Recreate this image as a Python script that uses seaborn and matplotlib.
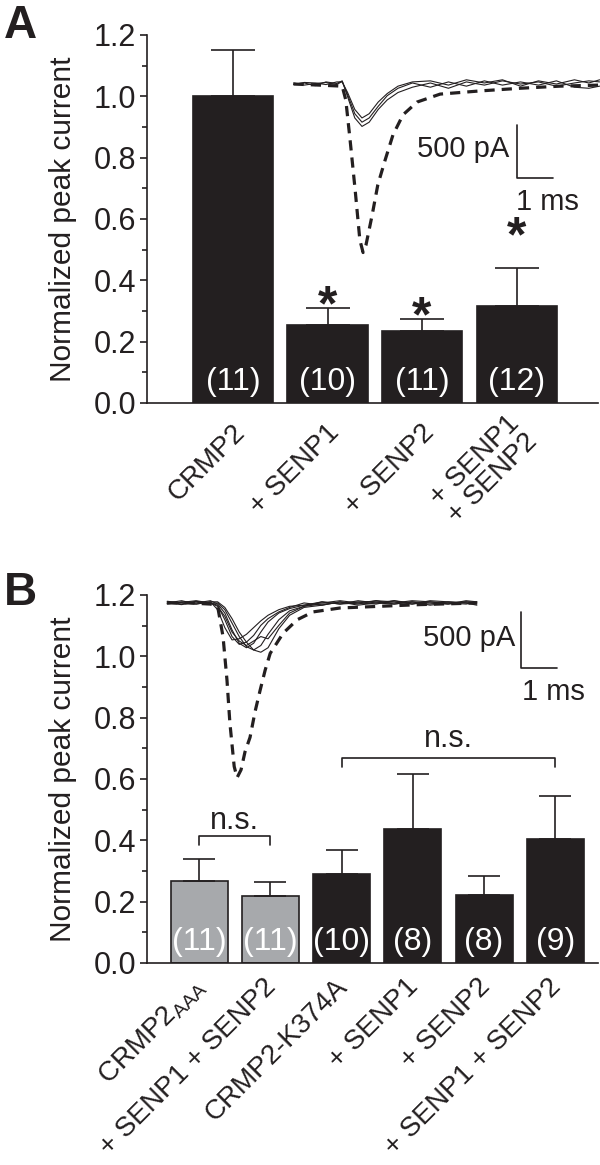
import matplotlib
matplotlib.use("Agg")
import matplotlib.pyplot as plt
import matplotlib.transforms as mtransforms
import seaborn as sns

# ---- panel A data ----
a_labels = ["CRMP2", "+ SENP1", "+ SENP2", "+ SENP1\n+ SENP2"]
a_mean = [1.0, 0.255, 0.235, 0.315]
a_sem = [0.151, 0.056, 0.039, 0.124]
a_n = ["(11)", "(10)", "(11)", "(12)"]
a_star = [None, 0.362, 0.326, 0.585]
a_colors = ["#231f20", "#231f20", "#231f20", "#231f20"]

# ---- panel B data ----
b_labels = [r"CRMP2$_{\mathrm{AAA}}$", "+ SENP1 + SENP2", "CRMP2-K374A",
            "+ SENP1", "+ SENP2", "+ SENP1 + SENP2"]
b_mean = [0.267, 0.218, 0.29, 0.437, 0.222, 0.404]
b_sem = [0.072, 0.046, 0.078, 0.179, 0.062, 0.141]
b_n = ["(11)", "(11)", "(10)", "(8)", "(8)", "(9)"]
b_colors = ["#a7a9ac", "#a7a9ac", "#231f20", "#231f20", "#231f20", "#231f20"]
# brackets: (first bar, last bar, leg bottom, bracket top, text baseline)
b_brackets = [(0, 1, 0.385, 0.414, 0.437), (2, 5, 0.639, 0.668, 0.703)]

# ---- example current traces (ms, pA) ----
a_dash_t = [0.1, 0.8, 1.45, 1.55, 1.67, 1.81, 1.94, 2.03, 2.11, 2.28, 2.44, 2.64,
            2.86, 3.14, 3.53, 4.17, 5.28, 6.39, 7.5, 8.6]
a_dash_i = [0, -10, -20, -150, -530, -1000, -1470, -1590, -1520, -1240, -950, -720,
            -480, -290, -170, -95, -65, -40, -20, -10]
a_sol_t = [0.1, 0.4, 0.7, 1.0, 1.3, 1.45, 1.6, 1.8, 2.0, 2.2, 2.45, 2.7, 3.0, 3.4,
           3.9, 4.4, 4.9, 5.4, 5.9, 6.4, 6.9, 7.4, 7.9, 8.3, 8.6]
a_sol = [
    [0, 10, -15, 20, 5, 30, -120, -320, -400, -360, -240, -150, -80, -30, 10, -40,
     20, -10, 30, 0, 20, -20, 10, 30, 20],
    [10, -10, 5, 15, -5, 25, -100, -280, -360, -320, -210, -110, -40, 10, -30, 20,
     -20, 30, -10, 20, -10, 30, -30, -40, -20],
    [-5, 15, 10, -5, 20, 20, -80, -240, -320, -280, -170, -90, -20, 20, 30, -10,
     40, 10, 40, -20, 30, 0, 40, 10, 40],
]

b_dash_t = [0.2, 0.8, 1.4, 1.6, 1.75, 1.86, 1.94, 2.06, 2.14, 2.25, 2.36, 2.5, 2.64,
            2.78, 2.92, 3.06, 3.42, 3.81, 4.25, 5.0, 6.1, 7.2, 8.3, 8.8]
b_dash_i = [0, 0, -10, -30, -300, -690, -1070, -1460, -1560, -1490, -1330, -1200,
            -970, -780, -600, -450, -270, -150, -80, -45, -30, -15, -5, 0]
b_sol_t = [0.2, 0.6, 1.0, 1.4, 1.6, 1.8, 2.0, 2.2, 2.4, 2.6, 2.8, 3.0, 3.3, 3.6,
           4.0, 4.5, 5.0, 5.5, 6.0, 6.5, 7.0, 7.5, 8.0, 8.5, 8.8]
b_sol = [
    [0, 20, -10, 10, -60, -220, -330, -320, -280, -220, -160, -110, -60, -30, -20,
     10, -10, 20, 0, -10, 10, 0, -10, 10, 0],
    [10, -10, 15, 0, -20, -150, -300, -370, -350, -290, -200, -140, -80, -40, 0,
     -20, 10, -10, 20, 10, -10, 10, 0, -10, 10],
    [-10, 10, 0, 20, -10, -90, -240, -360, -400, -360, -260, -170, -90, -50, -20,
     0, 20, 0, -10, 20, 0, -10, 10, 0, -10],
    [0, -15, 10, -5, 0, -60, -180, -300, -390, -420, -380, -280, -150, -70, -30,
     -10, 0, 10, 10, 0, 20, 10, -10, 20, 10],
    [15, 0, -10, 10, 10, -40, -140, -260, -350, -420, -440, -400, -230, -110, -40,
     -20, 10, -20, 0, 20, -10, 20, 10, 0, -20],
    [-5, 5, 20, 0, -30, -120, -260, -340, -380, -340, -300, -320, -200, -90, -30,
     10, -10, 0, 20, -10, 10, -20, 0, 10, 0],
]

sns.set_style("ticks")
plt.rcParams["font.family"] = ["Liberation Sans", "DejaVu Sans"]
plt.rcParams["mathtext.fontset"] = "custom"
plt.rcParams["mathtext.rm"] = "Liberation Sans"
plt.rcParams["mathtext.it"] = "Liberation Sans:italic"
plt.rcParams["mathtext.bf"] = "Liberation Sans:bold"

ink = "#231f20"
fig = plt.figure(figsize=(6, 11.65), dpi=100)


def bar_panel(ax, labels, mean, sem, n, colors, width, capsize, xlim, lab_dx, lab_dy):
    pos = list(range(len(mean)))
    sns.barplot(x=pos, y=mean, hue=pos, palette=colors, legend=False,
                width=width, edgecolor=ink, linewidth=1.2, saturation=1, ax=ax)
    ax.errorbar(pos, mean, yerr=[[0] * len(mean), sem], fmt="none",
                ecolor=ink, elinewidth=1.2, capsize=capsize, capthick=1.2)
    for i, s in enumerate(n):
        ax.text(i, 0.068, s, color="white", fontsize=23, ha="center", va="center")
    ax.set_ylim(0, 1.2)
    ax.set_xlim(*xlim)
    ax.set_xticks(pos)
    ax.set_xticklabels(labels)
    ax.set_yticks([0, 0.2, 0.4, 0.6, 0.8, 1.0, 1.2])
    ax.set_yticklabels(["0.0", "0.2", "0.4", "0.6", "0.8", "1.0", "1.2"])
    ax.set_yticks([0.1, 0.3, 0.5, 0.7, 0.9, 1.1], minor=True)
    ax.tick_params(axis="y", which="major", length=5, width=1.2, labelsize=22,
                   color=ink, labelcolor=ink, pad=3)
    ax.tick_params(axis="y", which="minor", length=3.5, width=1.2, color=ink)
    ax.tick_params(axis="x", length=0, labelsize=20, labelcolor=ink, pad=0)
    # offsets given in pixels (figure is 100 dpi)
    shift = mtransforms.ScaledTranslation(lab_dx / 100, -lab_dy / 100, fig.dpi_scale_trans)
    for lab in ax.get_xticklabels():
        lab.set_rotation(45)
        lab.set_ha("right")
        lab.set_va("center")
        lab.set_rotation_mode("anchor")
        lab.set_linespacing(0.95)
        lab.set_transform(lab.get_transform() + shift)
    for side in ["top", "right"]:
        ax.spines[side].set_visible(False)
    for side in ["left", "bottom"]:
        ax.spines[side].set_linewidth(1.2)
        ax.spines[side].set_color(ink)
    ax.set_ylabel("Normalized peak current", fontsize=21.5, color=ink)
    ax.yaxis.set_label_coords(-0.155, 0.5)
    ax.set_xlabel("")


def trace_inset(rect, xlim, ylim, dash_t, dash_i, sol_t, sol, bar_xy, lbl_pa, lbl_ms):
    ax = fig.add_axes(rect)
    for tr in sol:
        ax.plot(sol_t, tr, color=ink, lw=0.8)
    ax.plot(dash_t, dash_i, color=ink, lw=2.3, linestyle=(0, (3.2, 2.2)))
    x0, y0 = bar_xy
    ax.plot([x0, x0, x0 + 1], [y0, y0 - 500, y0 - 500], color=ink, lw=1.2)
    ax.text(lbl_pa[0], lbl_pa[1], "500 pA", fontsize=21, ha="right", va="center", color=ink)
    ax.text(lbl_ms[0], lbl_ms[1], "1 ms", fontsize=21, ha="center", va="center", color=ink)
    ax.set_xlim(*xlim)
    ax.set_ylim(*ylim)
    ax.axis("off")


# ---- panel A ----
axA = fig.add_axes([0.245, 0.6541, 0.7517, 0.3159])
bar_panel(axA, a_labels, a_mean, a_sem, a_n, a_colors, 0.847, 16, (-0.91, 3.862), 8, 26)
for i, s in enumerate(a_star):
    if s is not None:
        axA.annotate("*", xy=(i, s), xytext=(0, -0.56 * 36), textcoords="offset points",
                     ha="center", va="baseline", fontsize=36, fontweight="bold", color=ink)
trace_inset([0.4833, 0.7725, 0.5167, 0.1631], (0, 8.61), (-1708, 85),
            a_dash_t, a_dash_i, a_sol_t, a_sol, (6.31, -387), (6.1, -613), (7.14, -1113))

# ---- panel B ----
axB = fig.add_axes([0.245, 0.1734, 0.7517, 0.3159])
bar_panel(axB, b_labels, b_mean, b_sem, b_n, b_colors, 0.80, 11.5, (-0.73, 5.60), 2, 20)
for x1, x2, y1, y2, yt in b_brackets:
    axB.plot([x1, x1, x2, x2], [y1, y2, y2, y1], color=ink, lw=1.2)
    axB.text((x1 + x2) / 2, yt, "n.s.", fontsize=22, ha="center", va="baseline", color=ink)
trace_inset([0.2667, 0.3219, 0.7333, 0.1717], (0, 12.22), (-1670, 116),
            b_dash_t, b_dash_i, b_sol_t, b_sol, (10.03, -80), (9.86, -313), (10.92, -795))

fig.text(0.007, 0.9674, "A", fontsize=33, fontweight="bold", va="baseline", color=ink)
fig.text(0.007, 0.4807, "B", fontsize=33, fontweight="bold", va="baseline", color=ink)

fig.savefig("out.png", dpi=100)
